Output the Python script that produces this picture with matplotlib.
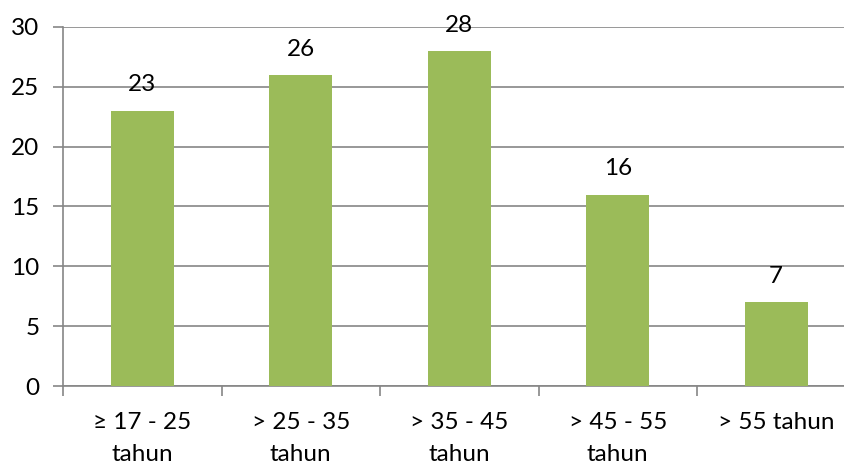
import matplotlib
matplotlib.use("Agg")
import matplotlib.pyplot as plt
import numpy as np

categories = ["≥ 17 - 25\ntahun", "> 25 - 35\ntahun", "> 35 - 45\ntahun", "> 45 - 55\ntahun", "> 55 tahun"]
values = [23, 26, 28, 16, 7]
y_ticks = [0, 5, 10, 15, 20, 25, 30]

plt.rcParams['font.family'] = ['Lato', 'DejaVu Sans']

fig = plt.figure(figsize=(8.45, 4.65), dpi=100)
ax = fig.add_axes([63 / 845, 79 / 465, 792.5 / 845, 359 / 465])

grid_color = "#868686"
bar_color = "#9BBB59"
fs = 17.5

x = np.arange(len(categories))
ax.bar(x, values, width=0.4, color=bar_color, zorder=3)

for xi, v in zip(x, values):
    ax.annotate(str(v), (xi, v), xytext=(0, 11), textcoords="offset points",
                ha="center", va="bottom", fontsize=fs, color="black", zorder=4)

ax.set_xlim(-0.5, len(categories) - 0.5)
ax.set_ylim(0, 30)
ax.set_yticks(y_ticks)
ax.yaxis.grid(True, color=grid_color, linewidth=1.2, zorder=0)
ax.set_axisbelow(True)

for side in ["top", "right"]:
    ax.spines[side].set_visible(False)
for side in ["left", "bottom"]:
    ax.spines[side].set_color(grid_color)
    ax.spines[side].set_linewidth(1.2)

ax.set_xticks(x)
ax.set_xticklabels(categories, fontsize=fs, linespacing=1.65)
ax.tick_params(axis="x", length=0, pad=19)
ax.set_xticks(np.arange(len(categories) + 1) - 0.5, minor=True)
ax.tick_params(axis="x", which="minor", length=7, color=grid_color, width=1.2)
ax.tick_params(axis="y", length=7, color=grid_color, width=1.2, labelsize=fs, pad=10)

fig.savefig("out.png", dpi=100)
